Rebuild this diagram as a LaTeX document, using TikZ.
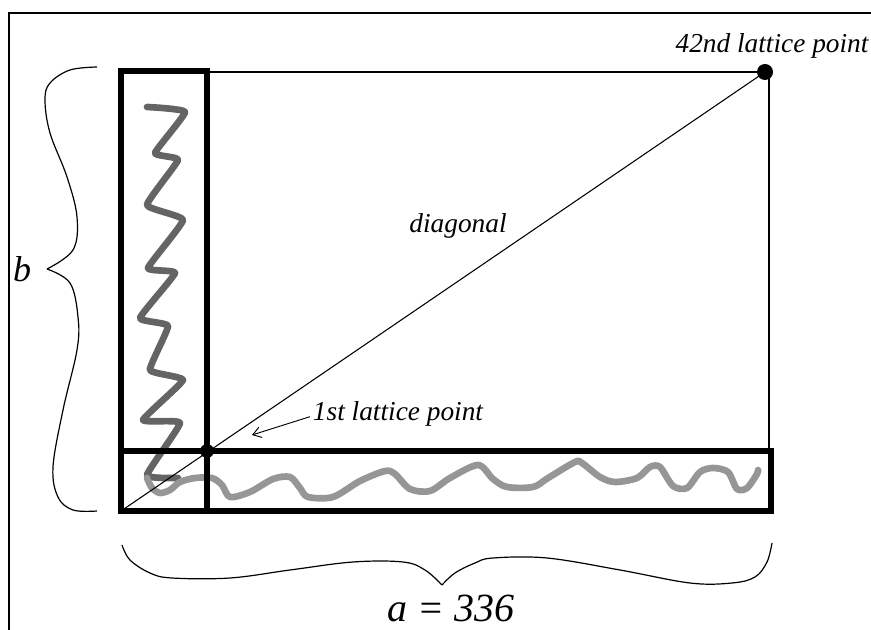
\documentclass[tikz,border=0pt]{standalone}
\usepackage{fontspec}
\setmainfont{Liberation Serif}
\usetikzlibrary{arrows.meta}
\definecolor{wigdark}{RGB}{100,100,100}
\definecolor{wiglight}{RGB}{150,150,150}
\begin{document}
\begin{tikzpicture}[x=0.75pt,y=-0.75pt,
  thickbox/.style={line width=4.6pt, line join=miter},
  thinline/.style={line width=1.1pt},
  diagline/.style={line width=0.8pt},
  bracepath/.style={line width=0.9pt},
  lbl/.style={font=\itshape\fontsize{20.5}{24}\selectfont, inner sep=0pt},
  biglbl/.style={font=\itshape\fontsize{30}{34}\selectfont, inner sep=0pt},
  darkwig/.style={line width=5pt, draw=wigdark, line join=round, line cap=round},
  lightwig/.style={line width=5pt, draw=wiglight, line join=round, line cap=round},
  ptdot/.style={fill=black}]
\useasboundingbox (0,0) rectangle (871,630);
% outer frame
\draw[line width=1.5pt] (9,630) -- (9,13) -- (871,13);
% named points
\coordinate (O) at (121,511);
\coordinate (P1) at (207,451);
\coordinate (P42) at (765,72);
\coordinate (arrtip) at (252,435);
% wiggles
\draw[darkwig] plot[smooth, tension=0.25] coordinates {(147,107) (185,112) (155,153) (178,160) (147,205) (183,220) (148,268) (175,273) (140,318) (168,326) (150,370) (183,380) (143,420) (180,423) (147,475) (178,478)};
\draw[lightwig] plot[smooth, tension=0.5] coordinates {(147,478) (152,488) (160,493) (170,490) (180,482) (195,478) (212,478) (222,485) (230,497) (250,492) (273,479) (290,477) (300,488) (308,497) (333,497) (360,481) (385,471) (395,474) (410,489) (430,491) (450,478) (478,465) (493,479) (507,487) (533,487) (548,478) (575,462) (582,463) (600,477) (615,482) (637,478) (650,467) (660,467) (673,486) (687,488) (700,472) (713,468) (728,472) (737,489) (747,488) (757,474) (758,470)};
% strips
\draw[thickbox] (121,71) rectangle (207,511);
\draw[thickbox] (121,451) rectangle (771,511);
% thin rectangle sides
\draw[thinline] (207,72) -- (769,72) -- (769,451);
% diagonal
\draw[diagline] (O) -- (P42);
% lattice points
\fill[ptdot] (P1) circle (5.2pt);
\fill[ptdot] (P42) circle (6pt);
% labels
\node[lbl] (t42) at (772,46) {42nd lattice point};
\node[lbl] (tdiag) at (458,226) {diagonal};
\node[lbl] (t1) at (398,414) {1st lattice point};
\draw[line width=0.7pt, -{Straight Barb[length=6pt,width=8pt]}] ([xshift=-2pt,yshift=-2pt]t1.west) -- (arrtip);
% braces
\draw[bracepath] plot[smooth, tension=0.6] coordinates {(97,67) (70,70) (50,83) (45,100) (50,133) (67,177) (77,217) (73,250) (47,269)};
\draw[bracepath] plot[smooth, tension=0.6] coordinates {(47,269) (70,283) (78,317) (77,350) (63,410) (53,467) (58,497) (73,510) (97,511)};
\draw[bracepath] plot[smooth, tension=0.6] coordinates {(122,545) (130,560) (150,573) (172,578) (230,578) (290,570) (353,562) (403,562) (425,570) (442,585)};
\draw[bracepath] plot[smooth, tension=0.6] coordinates {(442,585) (455,573) (475,563) (493,558) (547,558) (620,570) (690,583) (732,583) (755,577) (767,562) (772,543)};
\node[font=\itshape\fontsize{27}{30}\selectfont, inner sep=0pt] (lb) at (22,269) {b};
\node[biglbl, anchor=base] (la) at (451,621) {a = 336};
\end{tikzpicture}
\end{document}
